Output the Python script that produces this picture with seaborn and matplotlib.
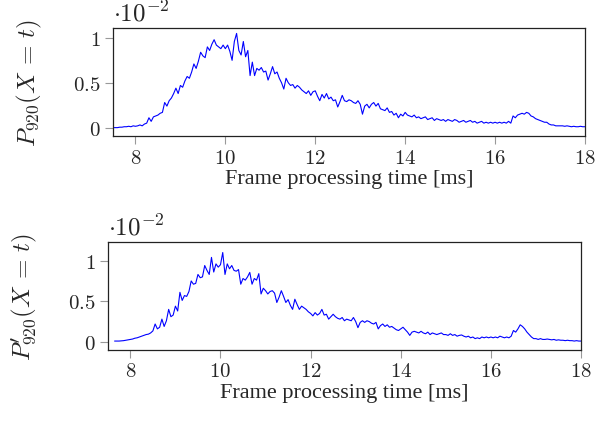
import numpy as np
import matplotlib
matplotlib.use("Agg")
import matplotlib.pyplot as plt
import seaborn as sns

# frame time distribution values, in units of 1e-2, sampled every 0.05 ms
P920_START = 7.50
P920 = [
    0.0, 0.0, 0.0, 0.005, 0.005, 0.01, 0.01, 0.015, 0.01, 0.02,
    0.015, 0.02, 0.03, 0.02, 0.04, 0.05, 0.11, 0.07, 0.12, 0.13,
    0.14, 0.16, 0.17, 0.28, 0.24, 0.30, 0.33, 0.38, 0.44, 0.38,
    0.47, 0.45, 0.52, 0.57, 0.55, 0.62, 0.71, 0.66, 0.74, 0.84,
    0.80, 0.78, 0.90, 0.86, 0.93, 0.98, 0.92, 0.90, 0.88, 0.92,
    0.88, 0.92, 0.85, 0.75, 0.96, 1.05, 0.86, 0.81, 0.96, 0.79,
    0.86, 0.58, 0.73, 0.58, 0.66, 0.64, 0.67, 0.62, 0.63, 0.53,
    0.60, 0.68, 0.60, 0.62, 0.55, 0.50, 0.43, 0.55, 0.50, 0.47,
    0.48, 0.44, 0.47, 0.45, 0.42, 0.40, 0.38, 0.41, 0.36, 0.40,
    0.41, 0.35, 0.30, 0.37, 0.33, 0.38, 0.32, 0.34, 0.30, 0.31,
    0.23, 0.29, 0.36, 0.30, 0.29, 0.31, 0.30, 0.28, 0.27, 0.30,
    0.26, 0.15, 0.24, 0.26, 0.22, 0.26, 0.28, 0.24, 0.27, 0.21,
    0.20, 0.19, 0.22, 0.17, 0.18, 0.14, 0.16, 0.11, 0.15, 0.13,
    0.17, 0.14, 0.13, 0.12, 0.14, 0.11, 0.12, 0.10, 0.11, 0.12,
    0.09, 0.10, 0.11, 0.08, 0.10, 0.09, 0.08, 0.09, 0.07, 0.09,
    0.08, 0.07, 0.09, 0.08, 0.06, 0.07, 0.08, 0.06, 0.07, 0.08,
    0.06, 0.07, 0.05, 0.06, 0.07, 0.05, 0.06, 0.05, 0.06, 0.05,
    0.06, 0.05, 0.06, 0.05, 0.06, 0.05, 0.07, 0.05, 0.13, 0.11,
    0.14, 0.15, 0.16, 0.15, 0.17, 0.16, 0.13, 0.12, 0.10, 0.09,
    0.08, 0.07, 0.06, 0.06, 0.04, 0.03, 0.03, 0.02, 0.02, 0.02,
    0.02, 0.015, 0.02, 0.015, 0.01, 0.015, 0.01, 0.01, 0.015, 0.01,
    0.01,
]

P920_PRIME_START = 7.65
P920_PRIME = [
    0.01, 0.01, 0.01, 0.012, 0.015, 0.02, 0.025,
    0.03, 0.035, 0.045, 0.05, 0.06, 0.07, 0.08, 0.09, 0.095, 0.11,
    0.135, 0.22, 0.16, 0.18, 0.28, 0.19, 0.26, 0.40, 0.31, 0.33,
    0.44, 0.38, 0.61, 0.51, 0.57, 0.56, 0.62, 0.75, 0.71, 0.72,
    0.83, 0.79, 0.80, 0.94, 0.88, 0.83, 1.04, 0.86, 0.96, 0.92,
    0.95, 1.10, 0.83, 0.96, 0.90, 0.94, 0.88, 0.87, 0.89, 0.71,
    0.78, 0.76, 0.80, 0.855, 0.71, 0.78, 0.76, 0.84, 0.59, 0.66,
    0.63, 0.59, 0.62, 0.63, 0.60, 0.485, 0.55, 0.63, 0.56, 0.485,
    0.52, 0.45, 0.40, 0.525, 0.46, 0.40, 0.44, 0.42, 0.40, 0.37,
    0.35, 0.32, 0.36, 0.33, 0.35, 0.40, 0.33, 0.34, 0.28, 0.31,
    0.34, 0.31, 0.29, 0.28, 0.30, 0.26, 0.28, 0.27, 0.26, 0.30,
    0.25, 0.175, 0.24, 0.26, 0.24, 0.26, 0.25, 0.23, 0.22, 0.24,
    0.16, 0.20, 0.22, 0.19, 0.21, 0.18, 0.19, 0.17, 0.15, 0.14,
    0.16, 0.18, 0.15, 0.12, 0.08, 0.12, 0.13, 0.12, 0.11, 0.13,
    0.11, 0.10, 0.12, 0.09, 0.11, 0.10, 0.09, 0.10, 0.11, 0.09,
    0.09, 0.08, 0.10, 0.08, 0.09, 0.07, 0.08, 0.085, 0.07, 0.06,
    0.07, 0.05, 0.06, 0.04, 0.05, 0.04, 0.06, 0.05, 0.06, 0.05,
    0.06, 0.05, 0.06, 0.05, 0.07, 0.06, 0.05, 0.06, 0.05, 0.07,
    0.14, 0.12, 0.16, 0.21, 0.19, 0.16, 0.12, 0.09, 0.06, 0.04,
    0.04, 0.03, 0.04, 0.03, 0.03, 0.035, 0.03, 0.025, 0.03, 0.02,
    0.025, 0.02, 0.02, 0.015, 0.02, 0.015, 0.015, 0.01, 0.015, 0.01,
    0.01,
]
STEP = 0.05

X_TICKS = [8, 10, 12, 14, 16, 18]
Y_TICKS = [0, 0.5, 1]
Y_TICKLABELS = ["0", "0.5", "1"]
XLABEL = "Frame processing time [ms]"

sns.set_style("ticks")
plt.rcParams["font.family"] = ["Liberation Serif", "DejaVu Serif"]
plt.rcParams["mathtext.fontset"] = "cm"
plt.rcParams["font.size"] = 16

fig = plt.figure(figsize=(5.99, 4.27), dpi=100)
ax_top = fig.add_axes([0.1886, 0.679, 0.788, 0.253])
ax_bot = fig.add_axes([0.180, 0.178, 0.790, 0.253])

panels = [
    (ax_top, P920_START, P920, r"$P_{920}(X\,=\,t)$", (-0.094, 1.11)),
    (ax_bot, P920_PRIME_START, P920_PRIME, r"$P^{\prime}_{920}(X\,=\,t)$", (-0.1, 1.23)),
]

for ax, start, vals, ylabel, ylim in panels:
    x = np.round(start + STEP * np.arange(len(vals)), 2)
    sns.lineplot(x=x, y=vals, color="blue", linewidth=0.8, ax=ax)
    ax.set_xlim(7.5, 18)
    ax.set_ylim(*ylim)
    ax.set_xticks(X_TICKS)
    ax.set_xticklabels([f"${t}$" for t in X_TICKS])
    ax.set_yticks(Y_TICKS)
    ax.set_yticklabels([f"${t}$" for t in Y_TICKLABELS])
    ax.set_xlabel(XLABEL, fontsize=16, labelpad=1)
    ax.set_ylabel(ylabel, fontsize=18, labelpad=21)
    ax.tick_params(axis="both", direction="out", length=6, width=0.8,
                   color="#999999", labelsize=15, pad=3)
    for sp in ax.spines.values():
        sp.set_color("#222222")
        sp.set_linewidth(0.9)
    ax.text(0.0, 1.02, r"$\cdot 10^{-2}$", transform=ax.transAxes,
            ha="left", va="bottom", fontsize=18)

fig.savefig("out.png", dpi=100)
